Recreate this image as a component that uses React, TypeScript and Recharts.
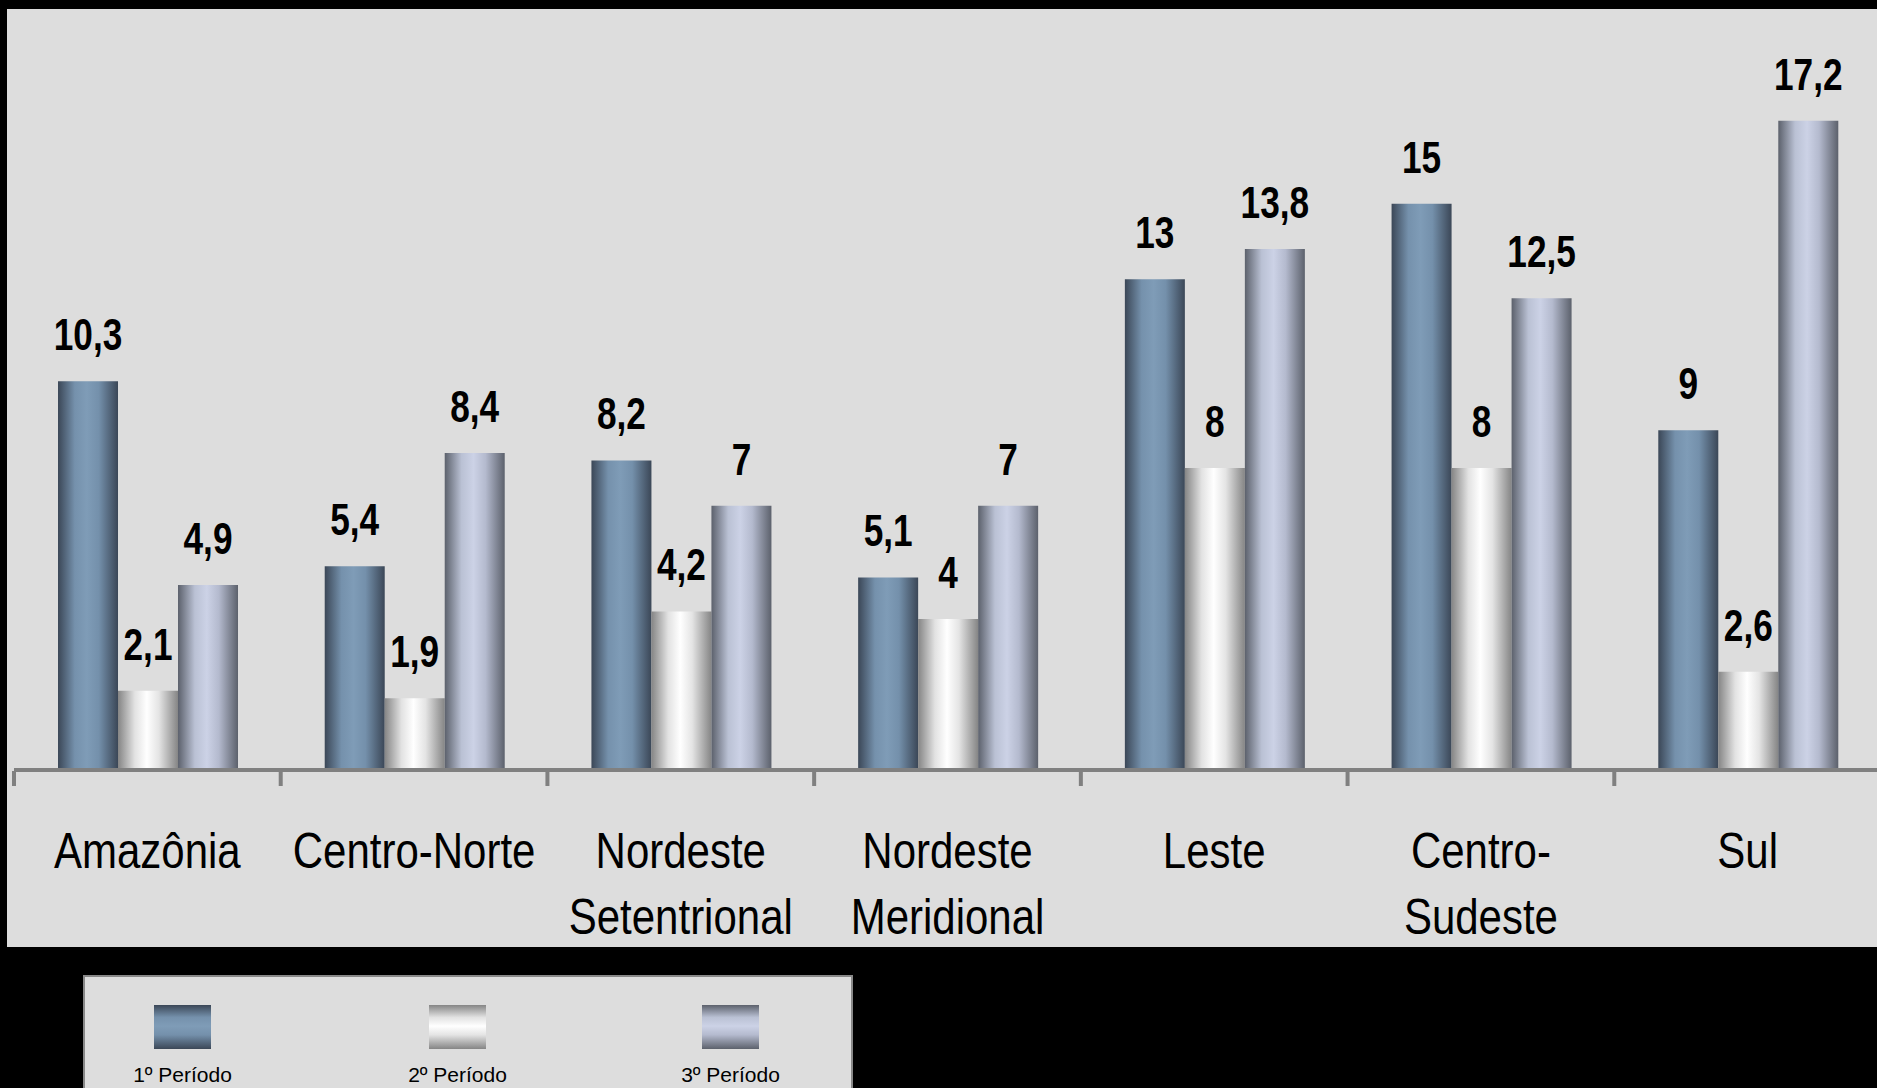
import { BarChart, Bar, XAxis, YAxis, LabelList } from "recharts";

const categories = [
  "Amazônia",
  "Centro-Norte",
  "Nordeste Setentrional",
  "Nordeste Meridional",
  "Leste",
  "Centro-Sudeste",
  "Sul",
];
// how the category names wrap under the axis
const tickLabels = [
  ["Amazônia"],
  ["Centro-Norte"],
  ["Nordeste", "Setentrional"],
  ["Nordeste", "Meridional"],
  ["Leste"],
  ["Centro-", "Sudeste"],
  ["Sul"],
];
const periodo1 = [10.3, 5.4, 8.2, 5.1, 13, 15, 9];
const periodo2 = [2.1, 1.9, 4.2, 4, 8, 8, 2.6];
const periodo3 = [4.9, 8.4, 7, 7, 13.8, 12.5, 17.2];
const seriesNames = ["1º Período", "2º Período", "3º Período"];

const data = categories.map((name, i) => ({
  name,
  p1: periodo1[i],
  p2: periodo2[i],
  p3: periodo3[i],
}));

const GRADS = [
  { id: "g1", stops: ["#3b4757", "#7591ac", "#7f9cb7", "#7490ab", "#3b4757"] },
  { id: "g2", stops: ["#858585", "#e2e2e2", "#ffffff", "#e4e4e4", "#858585"] },
  { id: "g3", stops: ["#5c616c", "#bac1d4", "#ccd2e6", "#b4bace", "#5c616c"] },
];
const OFFS = ["0%", "28%", "48%", "68%", "100%"];

const CHART_W = 1888;
const MARGIN_L = 14;
const MARGIN_R = 7;
const BAND = (CHART_W - MARGIN_L - MARGIN_R) / categories.length;

// no Arial Narrow here, so squeeze Liberation Sans sideways
const FONT = "'Liberation Sans', Arial, sans-serif";

const fmt = (v: number) => String(v).replace(".", ",");

const CategoryTick = (props: any) => {
  const { x, y, payload, index } = props;
  const lines = tickLabels[index] || [payload.value];
  const left = x - BAND / 2;
  return (
    <g>
      <line x1={left} x2={left} y1={y + 1} y2={y + 16} stroke="#808080" strokeWidth={4} />
      {lines.map((l: string, i: number) => (
        <text
          key={i}
          transform={`translate(${x},${y + 98 + i * 66}) scale(0.84,1)`}
          x={0}
          y={0}
          textAnchor="middle"
          fill="#000"
          fontSize={50}
          fontFamily={FONT}
        >
          {l}
        </text>
      ))}
    </g>
  );
};

const ValueLabel = (props: any) => {
  const { x, y, width, value } = props;
  return (
    <text
      transform={`translate(${x + width / 2},${y - 31}) scale(0.8,1)`}
      x={0}
      y={0}
      textAnchor="middle"
      fill="#000"
      fontSize={44}
      fontWeight="bold"
      fontFamily={FONT}
    >
      {fmt(value)}
    </text>
  );
};

export default function App() {
  return (
    <div
      style={{
        position: "absolute",
        left: 0,
        top: 0,
        width: 1877,
        height: 1088,
        background: "#000",
        overflow: "hidden",
      }}
    >
      <div
        style={{
          position: "absolute",
          left: 7,
          top: 9,
          width: 1870,
          height: 938,
          background: "#dddddd",
        }}
      />
      <div style={{ position: "absolute", left: 0, top: 0 }}>
        <BarChart
          width={CHART_W}
          height={947}
          data={data}
          margin={{ top: 15, right: MARGIN_R, bottom: 0, left: MARGIN_L }}
          barCategoryGap="16.5%"
          barGap={0}
        >
          <defs>
            {GRADS.map((g) => (
              <linearGradient key={g.id} id={g.id} x1="0" y1="0" x2="1" y2="0">
                {g.stops.map((c, i) => (
                  <stop key={i} offset={OFFS[i]} stopColor={c} />
                ))}
              </linearGradient>
            ))}
          </defs>
          <YAxis hide domain={[0, 20]} />
          <XAxis
            dataKey="name"
            height={177}
            interval={0}
            tickSize={0}
            tickMargin={0}
            tickLine={false}
            axisLine={{ stroke: "#808080", strokeWidth: 4 }}
            tick={<CategoryTick />}
          />
          {["p1", "p2", "p3"].map((k, i) => (
            <Bar
              key={k}
              dataKey={k}
              name={seriesNames[i]}
              fill={`url(#${GRADS[i].id})`}
              isAnimationActive={false}
            >
              <LabelList dataKey={k} content={<ValueLabel />} />
            </Bar>
          ))}
        </BarChart>
      </div>
      <div
        style={{
          position: "absolute",
          left: 83,
          top: 975,
          width: 766,
          height: 130,
          background: "#dddddd",
          border: "2px solid #888",
        }}
      >
        {seriesNames.map((n, i) => (
          <div
            key={n}
            style={{
              position: "absolute",
              left: [69, 344, 617][i] - 40,
              top: 28,
              width: 137,
              textAlign: "center",
            }}
          >
            <svg width={57} height={44} style={{ display: "block", margin: "0 auto" }}>
              <defs>
                <linearGradient id={`lg${i}`} x1="0" y1="0" x2="0" y2="1">
                  {GRADS[i].stops.map((c, j) => (
                    <stop key={j} offset={OFFS[j]} stopColor={c} />
                  ))}
                </linearGradient>
              </defs>
              <rect width={57} height={44} fill={`url(#lg${i})`} />
            </svg>
            <div
              style={{
                marginTop: 15,
                fontFamily: FONT,
                fontSize: 21,
                color: "#000",
                lineHeight: "22px",
              }}
            >
              {n}
            </div>
          </div>
        ))}
      </div>
    </div>
  );
}
